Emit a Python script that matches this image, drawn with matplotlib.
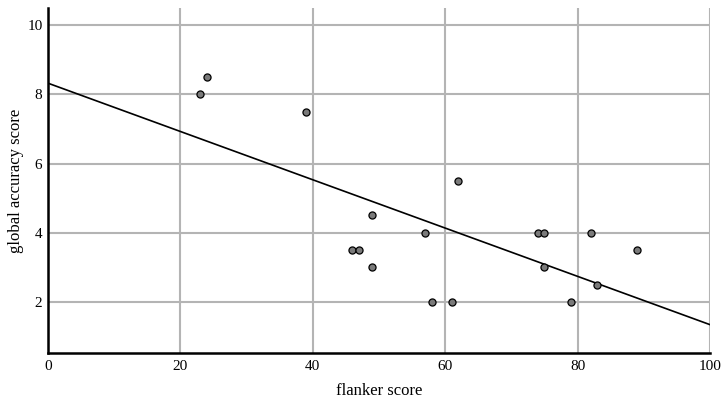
import matplotlib
matplotlib.use("Agg")
import matplotlib.pyplot as plt
import numpy as np

flanker = [23, 24, 39, 62, 49, 57, 46, 47, 49, 58, 61, 74, 75, 75, 82, 79, 83, 89]
accuracy = [8, 8.5, 7.5, 5.5, 4.5, 4, 3.5, 3.5, 3, 2, 2, 4, 4, 3, 4, 2, 2.5, 3.5]
xticks = [0, 20, 40, 60, 80, 100]
yticks = [2, 4, 6, 8, 10]

plt.rcParams['font.family'] = ['Liberation Serif', 'DejaVu Serif']

fig = plt.figure(figsize=(7.21, 4.03), dpi=100)
ax = fig.add_axes([0.0666, 0.124, 0.918, 0.856])

slope, intercept = np.polyfit(flanker, accuracy, 1)
xl = np.array([0, 100])
ax.plot(xl, intercept + slope * xl, color='black', lw=1.2, zorder=3)
ax.scatter(flanker, accuracy, s=26, facecolor='#7a7a7a', edgecolor='black', linewidth=0.9, zorder=4)

ax.set_xlim(0, 100)
ax.set_ylim(0.52, 10.5)
ax.set_xticks(xticks)
ax.set_yticks(yticks)
ax.grid(True, color='#b4b4b4', lw=1.5, zorder=0)
ax.set_axisbelow(True)
for s in ['top', 'right']:
    ax.spines[s].set_visible(False)
for s in ['left', 'bottom']:
    ax.spines[s].set_linewidth(1.8)
ax.tick_params(length=0, labelsize=11, pad=5)
ax.tick_params(axis='y', pad=4)
ax.set_xlabel('flanker score', fontsize=12, labelpad=7)
ax.set_ylabel('global accuracy score', fontsize=12, labelpad=2)

fig.savefig('out.png', dpi=100)
